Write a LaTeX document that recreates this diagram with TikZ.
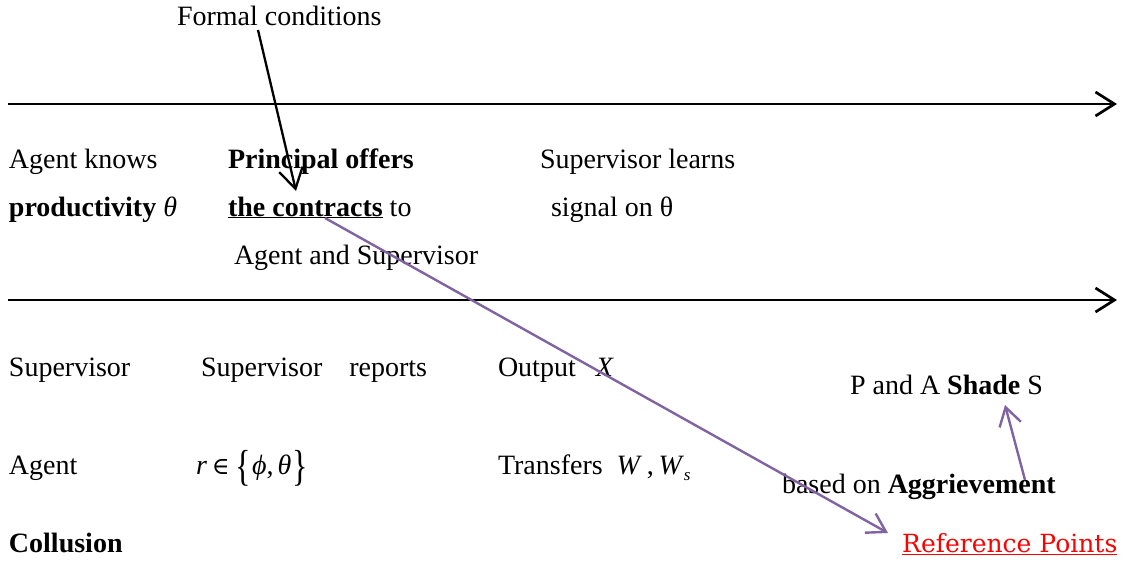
\documentclass[tikz,border=0pt]{standalone}
\usepackage{fontspec}
\setmainfont{Liberation Serif}
\newfontfamily\reffont{DejaVu Serif}
\usetikzlibrary{arrows.meta}
\definecolor{purp}{RGB}{128,100,162}
\definecolor{refred}{RGB}{255,0,0}
\newcommand{\subs}[1]{\raisebox{-6pt}{\fontsize{17}{17}\selectfont\itshape #1}}
\newcommand{\tallbr}[1]{\raisebox{-6pt}{\scalebox{1.15}[1.55]{#1}}}
\begin{document}
\begin{tikzpicture}[x=1pt,y=-1pt,
  txt/.style={anchor=base west,inner sep=0pt,outer sep=0pt,font=\fontsize{28}{34}\selectfont},
  timeline/.style={line width=2.7pt,-{Straight Barb[length=19pt,width=24pt,line width=2.7pt]}},
  blackarrow/.style={line width=2.3pt,-{Straight Barb[length=20pt,width=24pt,line width=2.3pt]}},
  purparrow/.style={purp,line width=2.4pt,-{Straight Barb[length=18pt,width=22pt,line width=2.4pt]}}]
\useasboundingbox (0,0) rectangle (1127,563);
\fill[white] (0,0) rectangle (1127,563);
% timelines
\coordinate (l1s) at (8,104);
\coordinate (l1e) at (1117,104);
\coordinate (l2s) at (8,300);
\coordinate (l2e) at (1117,300);
\draw[timeline] (l1s) -- (l1e);
\draw[timeline] (l2s) -- (l2e);
% texts
\node[txt] (formal) at (177,25) {Formal conditions};
\node[txt] (ak) at (9,168) {Agent knows};
\node[txt] (prod) at (9,216) {\textbf{productivity} \textit{θ}};
\node[txt] (po) at (228,168) {\textbf{Principal offers}};
\node[txt] (tc) at (228,216) {\underline{\textbf{the contracts}} to};
\node[txt] (aas) at (234,264) {Agent and Supervisor};
\node[txt] (sl) at (540,168) {Supervisor learns};
\node[txt] (sig) at (551,216) {signal on θ};
\node[txt] (sup) at (9,376) {Supervisor};
\node[txt] (srep) at (201,376) {Supervisor\hspace{27pt}reports};
\node[txt] (out) at (498,376) {Output\hspace{20pt}\textit{X}};
\node[txt] (pas) at (850,394) {P and A \textbf{Shade} S};
\node[txt] (ag) at (9,474) {Agent};
\node[txt] (rset) at (196,474) {\textit{r}\hspace{5pt}{\reffont\fontsize{24}{28}\selectfont ∈}\hspace{6pt}\tallbr{\{}\hspace{1pt}\textit{ϕ},\hspace{4pt}\textit{θ}\hspace{1pt}\tallbr{\}}};
\node[txt] (tr) at (498,474) {Transfers\hspace{14pt}\textit{W}\,,\,\textit{W}\subs{s}};
\node[txt] (agg) at (782,493) {based on \textbf{Aggrievement}};
\node[txt] (col) at (9,552) {\textbf{Collusion}};
\node[anchor=base west,inner sep=0pt,text=refred,font=\reffont\fontsize{25}{30}\selectfont] (ref) at (902,552) {\underline{Reference Points}};
% arrows
\coordinate (fa) at (258,30);
\coordinate (fb) at (296,191);
\draw[blackarrow] (fa) -- (fb);
\coordinate (pa) at (325,218);
\coordinate (pb) at (888,533);
\draw[purparrow] (pa) -- (pb);
\coordinate (qa) at (1025,480);
\coordinate (qb) at (1005,405);
\draw[purparrow] (qa) -- (qb);
\end{tikzpicture}
\end{document}
